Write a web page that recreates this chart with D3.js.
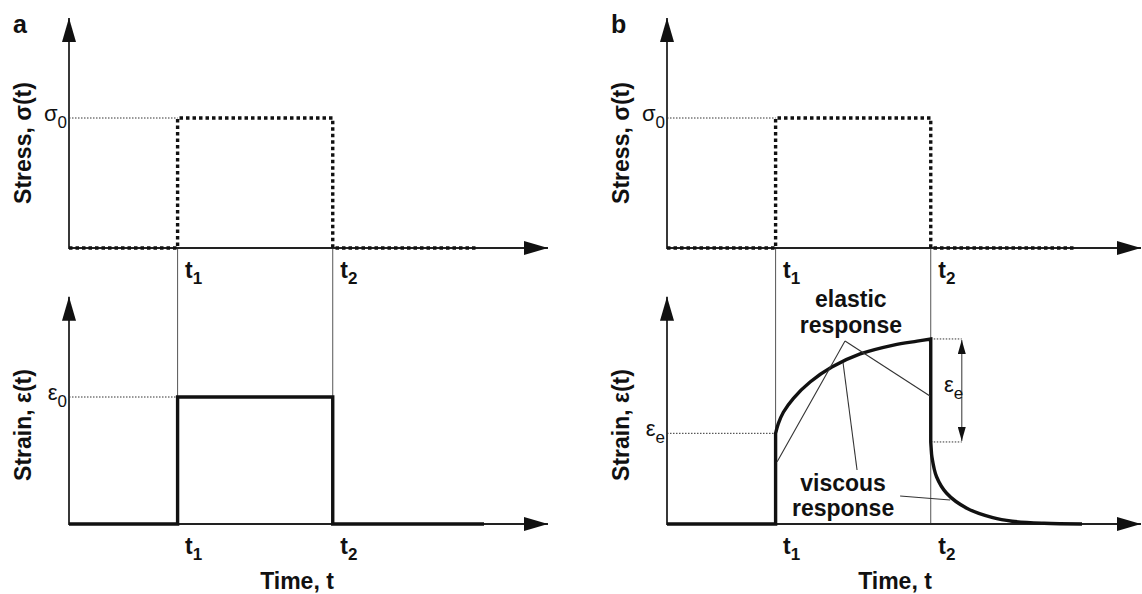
<!DOCTYPE html>
<html>
<head>
<meta charset="utf-8">
<script src="https://cdn.jsdelivr.net/npm/d3@7"></script>
<style>
  body { margin: 0; background: #fff; }
  svg { display: block; font-family: "Liberation Sans", Arial, sans-serif; }
</style>
</head>
<body>
<div id="chart"></div>
<script>
// time marks t1, t2 (arbitrary time units) and their subscripts
const timeMarks = [2.8, 6.8];
const timeSubs = ["1", "2"];

// applied stress (both panels)
const stressT = [0, 2.8, 2.8, 6.8, 6.8, 10.5];
const stressV = [0, 0, 1, 1, 0, 0];

// panel a: purely elastic strain
const elasticT = [0, 2.8, 2.8, 6.8, 6.8, 10.7];
const elasticV = [0, 0, 1, 1, 0, 0];

// panel b: viscoelastic strain, loading (creep) and unloading (recovery)
const restT = [0, 2.8];
const restV = [0, 0];
const creepT = [2.8, 2.87, 3.0, 3.26, 3.69, 4.25, 4.98, 5.84, 6.45, 6.8];
const creepV = [0.714, 0.79, 0.88, 0.99, 1.118, 1.236, 1.339, 1.409, 1.44, 1.457];
const recoveryT = [6.8, 6.81, 6.83, 6.95, 7.21, 7.73, 8.40, 8.9, 9.72, 10.7];
const recoveryV = [0.646, 0.60, 0.53, 0.372, 0.242, 0.124, 0.05, 0.022, 0.006, 0];

// pointer lines for the annotations in panel b: [t0, e0, t1, e1]
const pointers = [
  [4.59, 1.441, 2.84, 0.49],
  [4.59, 1.441, 6.78, 1.008],
  [4.90, 0.425, 4.54, 1.268],
  [6.01, 0.22, 7.30, 0.189]
];

const W = 1142, H = 594;
const T_MAX = 12.35;
const STRESS_TOP = 1.77, STRAIN_TOP = 1.79;
const PANEL_X = [69, 667];
const PANEL_NAME = ["a", "b"];
const INK = "#111";

const svg = d3.select("#chart").append("svg")
  .attr("width", W)
  .attr("height", H);

const defs = svg.append("defs");
defs.append("marker")
  .attr("id", "arrowBig")
  .attr("viewBox", "0 0 24 14")
  .attr("markerUnits", "userSpaceOnUse")
  .attr("markerWidth", 24).attr("markerHeight", 14)
  .attr("refX", 24).attr("refY", 7)
  .attr("orient", "auto")
  .append("path").attr("d", "M0,0L24,7L0,14Z").attr("fill", INK);
defs.append("marker")
  .attr("id", "arrowSmall")
  .attr("viewBox", "0 0 14 8")
  .attr("markerUnits", "userSpaceOnUse")
  .attr("markerWidth", 14).attr("markerHeight", 8)
  .attr("refX", 14).attr("refY", 4)
  .attr("orient", "auto-start-reverse")
  .append("path").attr("d", "M0,0L14,4L0,8Z").attr("fill", INK);

const zip = (ts, vs) => ts.map((t, i) => [t, vs[i]]);

function symbolLabel(g, px, py, main, sub, anchor) {
  const t = g.append("text")
    .attr("x", px).attr("y", py + 3)
    .attr("text-anchor", anchor)
    .attr("fill", INK)
    .style("font-size", "22px");
  t.append("tspan").text(main);
  t.append("tspan").attr("dy", 7).style("font-size", "17px").text(sub);
}

PANEL_X.forEach((x0, p) => {
  const g = svg.append("g");

  const x = d3.scaleLinear().domain([0, T_MAX]).range([x0, x0 + 479]);
  const yS = d3.scaleLinear().domain([0, 1]).range([248, 118]);
  const yE = d3.scaleLinear().domain([0, 1]).range([524, 397]);
  const xEnd = Math.min(x(T_MAX), W - 1);

  // thin guides at t1, t2 running between the two time axes
  g.selectAll(".guide").data(timeMarks).enter().append("line")
    .attr("x1", d => x(d)).attr("x2", d => x(d))
    .attr("y1", yS(0)).attr("y2", yE(0))
    .attr("stroke", "#555").attr("stroke-width", 1);

  // time axes with t1, t2 labels
  [yS, yE].forEach(y => {
    const ax = g.append("g")
      .attr("transform", `translate(0, ${y(0)})`)
      .call(d3.axisBottom(x).tickValues(timeMarks).tickSize(0));
    ax.select(".domain").remove();
    ax.selectAll(".tick text")
      .attr("x", 7).attr("y", 30).attr("dy", null)
      .attr("text-anchor", "start")
      .attr("fill", INK)
      .style("font-family", "\"Liberation Sans\", Arial, sans-serif")
      .style("font-weight", "bold")
      .style("font-size", "23px")
      .each(function (d, i) {
        const t = d3.select(this).text("");
        t.append("tspan").text("t");
        t.append("tspan").attr("dy", 6).style("font-size", "17px").text(timeSubs[i]);
      });

    g.append("line")
      .attr("x1", x(0)).attr("x2", xEnd)
      .attr("y1", y(0)).attr("y2", y(0))
      .attr("stroke", "#222").attr("stroke-width", 1.8)
      .attr("marker-end", "url(#arrowBig)");
  });

  // vertical axes
  g.append("line")
    .attr("x1", x(0)).attr("x2", x(0))
    .attr("y1", yS(0) + 1).attr("y2", yS(STRESS_TOP))
    .attr("stroke", "#222").attr("stroke-width", 1.8)
    .attr("marker-end", "url(#arrowBig)");
  g.append("line")
    .attr("x1", x(0)).attr("x2", x(0))
    .attr("y1", yE(0) + 1).attr("y2", yE(STRAIN_TOP))
    .attr("stroke", "#222").attr("stroke-width", 1.8)
    .attr("marker-end", "url(#arrowBig)");

  const dotted = (t0, t1, y) => g.append("line")
    .attr("x1", x(t0)).attr("x2", x(t1))
    .attr("y1", y).attr("y2", y)
    .attr("stroke", "#333").attr("stroke-width", 1)
    .attr("stroke-dasharray", "1.5,1.5");

  // stress signal
  const lineS = d3.line().x(d => x(d[0])).y(d => yS(d[1]));
  dotted(0, timeMarks[0], yS(1));
  g.append("path")
    .attr("d", lineS(zip(stressT, stressV)))
    .attr("fill", "none").attr("stroke", INK)
    .attr("stroke-width", 3.4).attr("stroke-dasharray", "3.5,3");

  symbolLabel(g, x(0) - 2, yS(1), "\u03c3", "0", "end");

  const lineE = d3.line().x(d => x(d[0])).y(d => yE(d[1]));
  const smooth = d3.line().x(d => x(d[0])).y(d => yE(d[1])).curve(d3.curveCatmullRom.alpha(0.5));

  if (p === 0) {
    dotted(0, timeMarks[0], yE(1));
    g.append("path")
      .attr("d", lineE(zip(elasticT, elasticV)))
      .attr("fill", "none").attr("stroke", INK)
      .attr("stroke-width", 3.4).attr("stroke-linejoin", "miter");
    symbolLabel(g, x(0) - 2, yE(1), "\u03b5", "0", "end");
  } else {
    const eJump = creepV[0];
    const eTop = creepV[creepV.length - 1];
    const eAfter = recoveryV[0];
    const tArrow = 7.6;
    dotted(0, timeMarks[0], yE(eJump));
    dotted(timeMarks[1], tArrow, yE(eTop));
    dotted(timeMarks[1], tArrow, yE(eAfter));

    const d = lineE(zip(restT, restV))
      + smooth(zip(creepT, creepV)).replace(/^M/, "L")
      + smooth(zip(recoveryT, recoveryV)).replace(/^M/, "L");
    g.append("path")
      .attr("d", d)
      .attr("fill", "none").attr("stroke", INK)
      .attr("stroke-width", 3.4);

    symbolLabel(g, x(0) - 2, yE(eJump), "\u03b5", "e", "end");

    // recovered elastic strain
    g.append("line")
      .attr("x1", x(tArrow)).attr("x2", x(tArrow))
      .attr("y1", yE(eTop) + 1).attr("y2", yE(eAfter) - 1)
      .attr("stroke", "#555").attr("stroke-width", 1.2)
      .attr("marker-start", "url(#arrowSmall)")
      .attr("marker-end", "url(#arrowSmall)");
    symbolLabel(g, x(7.09) + 2, yE(1.04) - 3, "\u03b5", "e", "start");

    g.selectAll(".pointer").data(pointers).enter().append("line")
      .attr("x1", d => x(d[0])).attr("y1", d => yE(d[1]))
      .attr("x2", d => x(d[2])).attr("y2", d => yE(d[3]))
      .attr("stroke", "#333").attr("stroke-width", 1.1);

    const note = (t, e, s) => g.append("text")
      .attr("x", x(t)).attr("y", yE(e))
      .attr("text-anchor", "middle")
      .attr("fill", INK)
      .style("font-weight", "bold").style("font-size", "23px")
      .text(s);
    note(4.74, 1.712, "elastic");
    note(4.74, 1.506, "response");
    note(4.54, 0.26, "viscous");
    note(4.54, 0.063, "response");
  }

  // axis titles
  const title = (tx, ty, s) => g.append("text")
    .attr("transform", `translate(${tx}, ${ty}) rotate(-90)`)
    .attr("text-anchor", "middle")
    .attr("fill", INK)
    .style("font-weight", "bold").style("font-size", "23px")
    .text(s);
  title(x0 - 38, 143, "Stress, \u03c3(t)");
  title(x0 - 38, 425, "Strain, \u03b5(t)");

  g.append("text")
    .attr("x", x0 + 228).attr("y", 589)
    .attr("text-anchor", "middle")
    .attr("fill", INK)
    .style("font-weight", "bold").style("font-size", "23px")
    .text("Time, t");

  g.append("text")
    .attr("x", x0 - 56).attr("y", 33)
    .attr("fill", INK)
    .style("font-weight", "bold").style("font-size", "25px")
    .text(PANEL_NAME[p]);
});
</script>
</body>
</html>
